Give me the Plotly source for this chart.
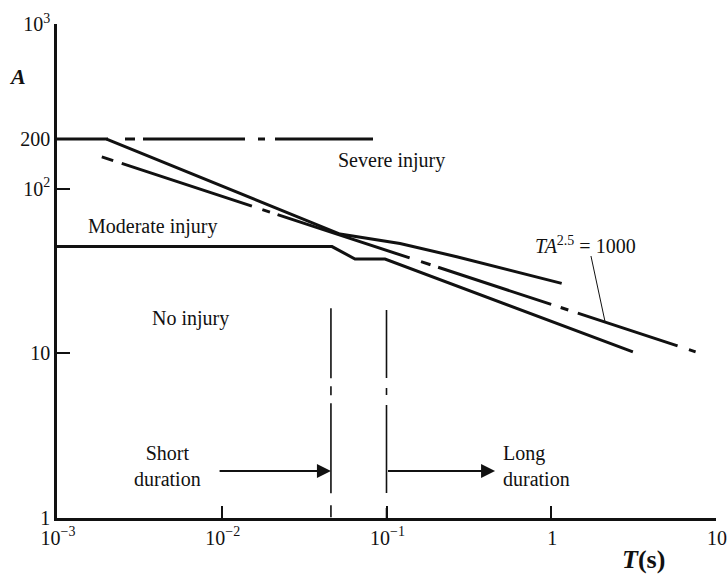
import math
import plotly.graph_objects as go

# ---------------- data (T in s, A) ----------------
severe_flat_T = [0.001, 0.083]
severe_flat_A = [200, 200]
severe_T = [0.002, 0.0522, 0.1208, 0.2668, 1.157]
severe_A = [200, 53, 46.5, 38.6, 26.6]
moderate_T = [0.001, 0.0467, 0.0644, 0.098, 3.13]
moderate_A = [44.5, 44.5, 37.4, 37.4, 10.2]
gadd_T = [0.00187, 7.78]
gadd_A = [156, 10.1]
short_limit_T = [0.046, 0.046]
short_limit_A = [18.8, 1]
long_limit_T = [0.1, 0.1]
long_limit_A = [18.3, 1]
pointer_T = [1.742, 2.12]
pointer_A = [39.0, 15.6]
short_arrow_T = [0.0095, 0.046]
long_arrow_T = [0.1, 0.456]
arrow_A = 1.93

x_tickvals = [0.001, 0.01, 0.1, 1, 10]
x_ticktext = ["10<sup>\u22123</sup>", "10<sup>\u22122</sup>", "10<sup>\u22121</sup>", "1", "10"]
y_tickvals = [1, 10, 100, 200, 1000]
y_ticktext = ["1", "10", "10<sup>2</sup>", "200", "10<sup>3</sup>"]

FONT = "Liberation Serif"
BLACK = "#111111"

fig = go.Figure()

def line(T, A, width=3, dash="solid"):
    fig.add_trace(go.Scatter(x=T, y=A, mode="lines",
                             line=dict(color=BLACK, width=width, dash=dash),
                             hoverinfo="skip", showlegend=False))

line(severe_flat_T, severe_flat_A, 3, "51px,17px,10px,8px,102px,13px,7px,10px,98px")
line(severe_T, severe_A, 3)
line(moderate_T, moderate_A, 3)
line(gadd_T, gadd_A, 3,
     "12px,9px,137px,11px,8px,8px,139px,12px,10px,8px,119px,10px,8px,10px,105px,12px,7px,20px")
line(short_limit_T, short_limit_A, 1.6, "70px,8px,9px,8px,90px,12px,12px,20px")
line(long_limit_T, long_limit_A, 1.6, "68px,10px,7px,10px,88px,15px,10px,20px")
line(pointer_T, pointer_A, 1)

annotations = []

def txt(T, A, text, xanchor="center", align="center", size=20):
    annotations.append(dict(x=math.log10(T), y=math.log10(A), xref="x", yref="y",
                            text=text, showarrow=False, xanchor=xanchor, yanchor="middle",
                            align=align, font=dict(family=FONT, size=size, color=BLACK)))

txt(10 ** -0.9727, 10 ** 2.1736, "Severe injury")
txt(10 ** -2.4203, 10 ** 1.773, "Moderate injury")
txt(10 ** -2.1927, 10 ** 1.2143, "No injury")
txt(10 ** -2.3263, 10 ** 0.3157, "Short<br>duration")
txt(10 ** -0.305, 10 ** 0.3157, "Long<br>duration", xanchor="left", align="left")
txt(10 ** 0.208, 10 ** 1.6576, "<i>TA</i><sup>2.5</sup> = 1000")

for T0, T1 in (short_arrow_T, long_arrow_T):
    annotations.append(dict(x=math.log10(T1), y=math.log10(arrow_A),
                            ax=math.log10(T0), ay=math.log10(arrow_A),
                            xref="x", yref="y", axref="x", ayref="y",
                            text="", showarrow=True, arrowhead=2, arrowsize=1.4,
                            arrowwidth=2, arrowcolor=BLACK))

annotations.append(dict(x=-0.0592, y=0.8947, xref="paper", yref="paper",
                        xanchor="center", yanchor="middle",
                        text="<b><i>A</i></b>", showarrow=False,
                        font=dict(family=FONT, size=22, color=BLACK)))
annotations.append(dict(x=0.8907, y=-0.083, xref="paper", yref="paper",
                        xanchor="center", yanchor="middle",
                        text="<b><i>T</i>(s)</b>", showarrow=False,
                        font=dict(family=FONT, size=26, color=BLACK)))

fig.update_layout(
    width=727, height=574,
    margin=dict(l=57, r=11, t=24, b=56, autoexpand=False),
    paper_bgcolor="white", plot_bgcolor="white",
    font=dict(family=FONT, size=20, color=BLACK),
    annotations=annotations,
    showlegend=False,
)
fig.update_xaxes(type="log", range=[-3, 1], showgrid=False, zeroline=False,
                 showline=True, linecolor=BLACK, linewidth=2.5, automargin=False,
                 ticks="inside", ticklen=12, tickwidth=2, tickcolor=BLACK,
                 tickvals=x_tickvals, ticktext=x_ticktext, ticklabelshift=1,
                 ticklabeloverflow="allow",
                 tickfont=dict(family=FONT, size=20, color=BLACK))
fig.update_yaxes(type="log", range=[0, 3], showgrid=False, zeroline=False,
                 showline=True, linecolor=BLACK, linewidth=2.5, automargin=False,
                 ticks="inside", ticklen=13, tickwidth=2, tickcolor=BLACK,
                 tickvals=y_tickvals, ticktext=y_ticktext,
                 ticklabeloverflow="allow",
                 tickfont=dict(family=FONT, size=20, color=BLACK))

fig.write_html("out.html", config={"displayModeBar": False},
               post_script="document.body.style.margin='0';")
